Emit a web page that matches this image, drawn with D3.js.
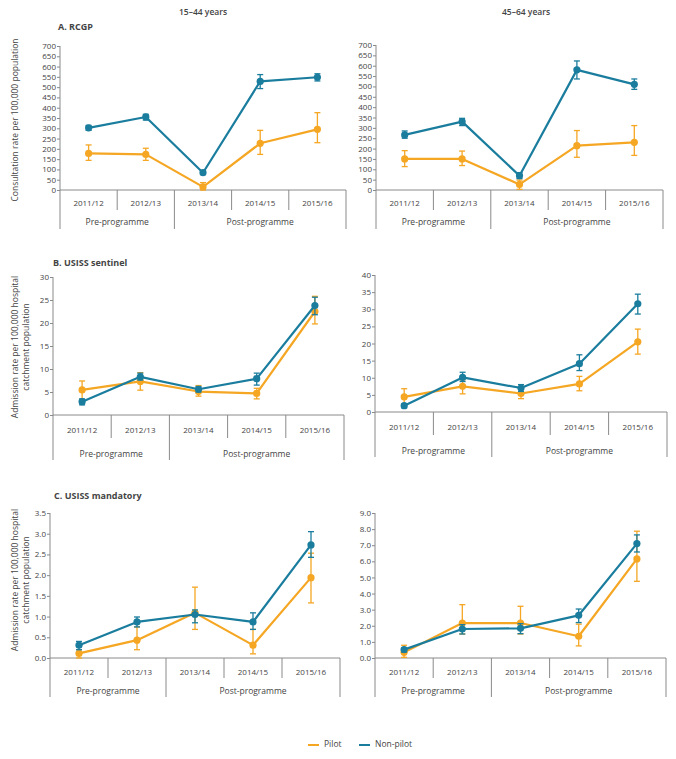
<!DOCTYPE html>
<html>
<head>
<meta charset="utf-8">
<script src="https://cdn.jsdelivr.net/npm/d3@7"></script>
<style>
  body { margin: 0; background: #fff; }
  svg { font-family: "Open Sans", "DejaVu Sans", sans-serif; }
  text { fill: #444; }
</style>
</head>
<body>
<svg width="676" height="759"></svg>
<script>
var years = ["2011/12", "2012/13", "2013/14", "2014/15", "2015/16"];
var groups = [["Pre-programme", 0, 2], ["Post-programme", 2, 5]];

// A. RCGP, 15-44
var rcgpYoungPilot = [178, 173, 15, 227, 295];
var rcgpYoungPilotLo = [144, 144, 0, 173, 230];
var rcgpYoungPilotHi = [219, 203, 36, 290, 376];
var rcgpYoungNon = [302, 355, 84, 528, 548];
var rcgpYoungNonLo = [290, 340, 76, 493, 530];
var rcgpYoungNonHi = [314, 368, 93, 561, 565];
// A. RCGP, 45-64
var rcgpOldPilot = [150, 150, 27, 214, 230];
var rcgpOldPilotLo = [113, 118, 3, 158, 167];
var rcgpOldPilotHi = [190, 188, 48, 287, 311];
var rcgpOldNon = [266, 330, 69, 580, 510];
var rcgpOldNonLo = [250, 311, 55, 536, 486];
var rcgpOldNonHi = [285, 346, 84, 623, 536];
// B. USISS sentinel, 15-44
var sentYoungPilot = [5.45, 7.3, 5.1, 4.7, 22.5];
var sentYoungPilotLo = [3.4, 5.4, 4.1, 3.5, 19.8];
var sentYoungPilotHi = [7.4, 9.2, 6.4, 5.8, 25.8];
var sentYoungNon = [2.9, 8.3, 5.6, 7.9, 23.8];
var sentYoungNonLo = [2.2, 7.6, 5.0, 6.5, 21.8];
var sentYoungNonHi = [3.5, 9.1, 6.2, 9.1, 25.6];
// B. USISS sentinel, 45-64
var sentOldPilot = [4.4, 7.5, 5.4, 8.2, 20.5];
var sentOldPilotLo = [2.3, 5.3, 3.9, 6.2, 16.9];
var sentOldPilotHi = [6.8, 9.4, 6.8, 10.4, 24.2];
var sentOldNon = [1.85, 10.1, 7.0, 14.1, 31.6];
var sentOldNonLo = [1.2, 8.9, 6.0, 12.1, 28.6];
var sentOldNonHi = [2.4, 11.6, 8.0, 16.7, 34.4];
// C. USISS mandatory, 15-44
var mandYoungPilot = [0.11, 0.43, 1.09, 0.31, 1.94];
var mandYoungPilotLo = [0.0, 0.2, 0.69, 0.1, 1.33];
var mandYoungPilotHi = [0.2, 0.75, 1.71, 0.69, 2.53];
var mandYoungNon = [0.31, 0.87, 1.05, 0.87, 2.73];
var mandYoungNonLo = [0.2, 0.75, 0.85, 0.69, 2.43];
var mandYoungNonHi = [0.4, 0.99, 1.16, 1.09, 3.05];
// C. USISS mandatory, 45-64
var mandOldPilot = [0.35, 2.17, 2.17, 1.35, 6.15];
var mandOldPilotLo = [0.04, 1.49, 1.49, 0.75, 4.76];
var mandOldPilotHi = [0.79, 3.31, 3.21, 2.1, 7.87];
var mandOldNon = [0.52, 1.8, 1.84, 2.65, 7.1];
var mandOldNonLo = [0.37, 1.49, 1.51, 2.2, 6.58];
var mandOldNonHi = [0.62, 2.07, 2.13, 3.04, 7.64];

var pilotColor = "#f5a623";
var nonColor = "#1a7d9e";
var axisColor = "#8a8a8a";

var svg = d3.select("svg");

function series(v, lo, hi) {
    return v.map(function (d, i) { return { cat: years[i], v: d, lo: lo[i], hi: hi[i] }; });
}

function drawPanel(p) {
    var g = svg.append("g");
    var x = d3.scaleBand().domain(years).range([p.x0, p.x1]).padding(0);
    var y = d3.scaleLinear().domain([0, p.max]).range([p.yBot, p.yTop]);

    var ticks = d3.range(0, p.max + p.step / 2, p.step);
    var yAxis = d3.axisLeft(y).tickValues(ticks).tickSize(3).tickFormat(d3.format(p.fmt));
    var ya = g.append("g").attr("transform", "translate(" + p.x0 + ",0)").call(yAxis);
    ya.select(".domain").attr("stroke", axisColor).attr("d", "M0," + p.yTop + "V" + (p.yBot + p.o.end));
    ya.selectAll(".tick line").attr("stroke", axisColor);
    ya.selectAll(".tick text").attr("font-size", 8).attr("fill", "#444").attr("x", -4)
        .style("font-family", "'Open Sans', sans-serif");

    // baseline
    g.append("line").attr("x1", p.x0).attr("x2", p.x1).attr("y1", p.yBot).attr("y2", p.yBot)
        .attr("stroke", axisColor);

    // category dividers
    years.forEach(function (c, i) {
        if (i === 0) return;
        var full = groups.some(function (gr) { return gr[1] === i; });
        g.append("line").attr("x1", x(c)).attr("x2", x(c)).attr("y1", p.yBot)
            .attr("y2", p.yBot + (full ? p.o.end : p.o.tick)).attr("stroke", axisColor);
    });
    g.append("line").attr("x1", p.x1).attr("x2", p.x1).attr("y1", p.yBot)
        .attr("y2", p.yBot + p.o.end).attr("stroke", axisColor);

    g.selectAll(".yr").data(years).enter().append("text")
        .attr("x", function (d) { return x(d) + x.bandwidth() / 2; })
        .attr("y", p.yBot + p.o.lab)
        .attr("text-anchor", "middle").attr("dominant-baseline", "middle")
        .attr("font-size", 8).text(function (d) { return d; });

    groups.forEach(function (gr) {
        var a = x(years[gr[1]]);
        var b = gr[2] < years.length ? x(years[gr[2]]) : p.x1;
        g.append("text").attr("x", (a + b) / 2).attr("y", p.yBot + p.o.grp)
            .attr("text-anchor", "middle").attr("dominant-baseline", "middle")
            .attr("font-size", 8.5).text(gr[0]);
    });

    var line = d3.line()
        .x(function (d) { return x(d.cat) + x.bandwidth() / 2; })
        .y(function (d) { return y(d.v); });

    [[p.pilot, pilotColor], [p.non, nonColor]].forEach(function (s) {
        var data = s[0], col = s[1];
        g.append("path").datum(data).attr("d", line).attr("fill", "none")
            .attr("stroke", col).attr("stroke-width", 2.2).attr("stroke-linejoin", "round");
        var eb = g.selectAll(null).data(data).enter().append("g")
            .attr("stroke", col).attr("stroke-width", 1.3);
        eb.append("line")
            .attr("x1", function (d) { return x(d.cat) + x.bandwidth() / 2; })
            .attr("x2", function (d) { return x(d.cat) + x.bandwidth() / 2; })
            .attr("y1", function (d) { return y(d.lo); })
            .attr("y2", function (d) { return y(d.hi); });
        [function (d) { return y(d.lo); }, function (d) { return y(d.hi); }].forEach(function (fy) {
            eb.append("line")
                .attr("x1", function (d) { return x(d.cat) + x.bandwidth() / 2 - 3; })
                .attr("x2", function (d) { return x(d.cat) + x.bandwidth() / 2 + 3; })
                .attr("y1", fy).attr("y2", fy);
        });
        g.selectAll(null).data(data).enter().append("circle")
            .attr("cx", function (d) { return x(d.cat) + x.bandwidth() / 2; })
            .attr("cy", function (d) { return y(d.v); })
            .attr("r", 3.6).attr("fill", col);
    });
}

var offA = { lab: 14, tick: 20, grp: 33, end: 39 };
var offB = { lab: 16, tick: 23, grp: 40, end: 45 };
var offC = { lab: 15, tick: 20, grp: 34, end: 39 };

drawPanel({ x0: 60, x1: 346, yTop: 46, yBot: 190, max: 700, step: 50, fmt: "d", o: offA,
    pilot: series(rcgpYoungPilot, rcgpYoungPilotLo, rcgpYoungPilotHi),
    non: series(rcgpYoungNon, rcgpYoungNonLo, rcgpYoungNonHi) });
drawPanel({ x0: 376, x1: 663, yTop: 45, yBot: 190, max: 700, step: 50, fmt: "d", o: offA,
    pilot: series(rcgpOldPilot, rcgpOldPilotLo, rcgpOldPilotHi),
    non: series(rcgpOldNon, rcgpOldNonLo, rcgpOldNonHi) });
drawPanel({ x0: 53, x1: 344, yTop: 277, yBot: 415, max: 30, step: 5, fmt: "d", o: offB,
    pilot: series(sentYoungPilot, sentYoungPilotLo, sentYoungPilotHi),
    non: series(sentYoungNon, sentYoungNonLo, sentYoungNonHi) });
drawPanel({ x0: 375, x1: 667, yTop: 275, yBot: 412, max: 40, step: 5, fmt: "d", o: offB,
    pilot: series(sentOldPilot, sentOldPilotLo, sentOldPilotHi),
    non: series(sentOldNon, sentOldNonLo, sentOldNonHi) });
drawPanel({ x0: 50, x1: 340, yTop: 513, yBot: 658, max: 3.5, step: 0.5, fmt: ".1f", o: offC,
    pilot: series(mandYoungPilot, mandYoungPilotLo, mandYoungPilotHi),
    non: series(mandYoungNon, mandYoungNonLo, mandYoungNonHi) });
drawPanel({ x0: 375, x1: 666, yTop: 513, yBot: 658, max: 9, step: 1, fmt: ".1f", o: offC,
    pilot: series(mandOldPilot, mandOldPilotLo, mandOldPilotHi),
    non: series(mandOldNon, mandOldNonLo, mandOldNonHi) });

// headers and panel titles
svg.append("text").text("15–44 years").attr("x", 203).attr("y", 15)
    .attr("text-anchor", "middle").attr("font-size", 8.5).attr("font-weight", 600);
svg.append("text").text("45–64 years").attr("x", 526).attr("y", 15)
    .attr("text-anchor", "middle").attr("font-size", 8.5).attr("font-weight", 600);
[["A. RCGP", 58, 30], ["B. USISS sentinel", 53, 266], ["C. USISS mandatory", 54, 499]].forEach(function (t) {
    svg.append("text").text(t[0]).attr("x", t[1]).attr("y", t[2])
        .attr("font-size", 9).attr("font-weight", 700).attr("fill", "#333");
});

// y axis titles
function yTitle(lines, cx, cy) {
    var t = svg.append("text").attr("transform", "translate(" + cx + "," + cy + ") rotate(-90)")
        .attr("text-anchor", "middle").attr("font-size", 8.5);
    lines.forEach(function (l, i) {
        t.append("tspan").attr("x", 0).attr("dy", i === 0 ? 0 : 11).text(l);
    });
}
yTitle(["Consultation rate per 100,000 population"], 18, 120);
yTitle(["Admission rate per 100,000 hospital", "catchment population"], 18, 347);
yTitle(["Admission rate per 100,000 hospital", "catchment population"], 18, 580);

// legend
var leg = svg.append("g");
[["Pilot", pilotColor, 308], ["Non-pilot", nonColor, 359]].forEach(function (l) {
    leg.append("line").attr("x1", l[2]).attr("x2", l[2] + 11).attr("y1", 745).attr("y2", 745)
        .attr("stroke", l[1]).attr("stroke-width", 2);
    leg.append("text").text(l[0]).attr("x", l[2] + 16).attr("y", 745)
        .attr("dominant-baseline", "middle").attr("font-size", 8.5);
});
</script>
</body>
</html>
